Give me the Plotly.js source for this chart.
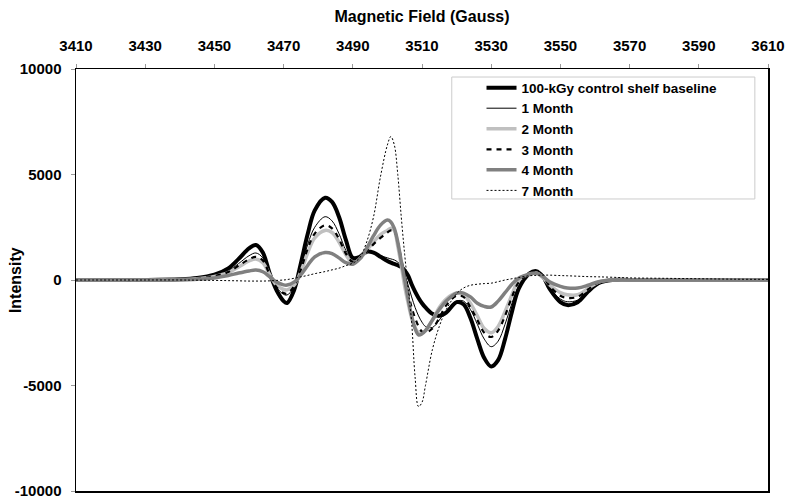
<!DOCTYPE html>
<html>
<head>
<meta charset="utf-8">
<script src="https://cdn.plot.ly/plotly-3.0.1.min.js"></script>
<style>
  body { margin: 0; background: #fff; }
  #graph { width: 792px; height: 504px; }
</style>
</head>
<body>
<div id="graph"></div>
<script>

// magnetic field (Gauss), shared by all spectra
var field = [3410, 3420, 3430, 3440, 3445, 3450, 3454, 3457, 3460, 3462,
  3464, 3466, 3468, 3470, 3471, 3473, 3475, 3477, 3479, 3482,
  3484, 3486, 3488, 3490, 3492, 3494, 3496, 3498, 3500, 3501,
  3502, 3503, 3504, 3505, 3506, 3507, 3508, 3509, 3510, 3511,
  3513, 3515, 3517, 3520, 3522, 3524, 3526, 3528, 3530, 3532,
  3534, 3536, 3538, 3541, 3543, 3545, 3547, 3550, 3552, 3555,
  3558, 3561, 3565, 3570, 3580, 3590, 3600, 3610];

var control = [0, 0, 0, 30, 90, 250, 550, 1000, 1500, 1660,
  1300, 300, -500, -1000, -1090, -500, 800, 2200, 3300, 3900,
  3700, 3000, 1900, 1050, 1100, 1340, 1300, 1100, 900, 820,
  760, 700, 620, 450, 200, -200, -550, -850, -1100, -1300,
  -1600, -1700, -1550, -1050, -1150, -1800, -2800, -3700, -4100, -3800,
  -2800, -1500, -400, 300, 420, 150, -450, -1050, -1190, -1050,
  -550, -150, 0, 0, 0, 0, 0, 0];

var month1 = [0, 0, 0, 20, 70, 200, 430, 780, 1150, 1280,
  1050, 300, -350, -680, -710, -350, 600, 1700, 2500, 3000,
  2800, 2200, 1400, 900, 1050, 1300, 1250, 1150, 1050, 1000,
  950, 850, 650, 250, -250, -800, -1300, -1700, -2000, -2200,
  -2250, -1900, -1450, -1000, -1000, -1400, -2100, -2800, -3160, -2900,
  -2100, -1100, -300, 250, 380, 100, -400, -900, -1030, -950,
  -500, -150, 0, 0, 0, 0, 0, 0];

var month2 = [0, 0, 0, 20, 60, 170, 350, 620, 900, 1000,
  820, 250, -250, -450, -470, -250, 400, 1300, 2000, 2350,
  2250, 1800, 1200, 800, 1000, 1400, 1800, 2150, 2350, 2450,
  2350, 1600, 700, -300, -1100, -1800, -2250, -2500, -2500, -2400,
  -1900, -1300, -900, -620, -700, -1100, -1700, -2300, -2500, -2200,
  -1500, -700, 0, 280, 330, 100, -250, -600, -700, -700,
  -400, -100, 0, 0, 0, 0, 0, 0];

var month3 = [0, 0, 0, 20, 60, 180, 380, 680, 980, 1100,
  920, 250, -350, -620, -650, -300, 500, 1500, 2200, 2600,
  2450, 1950, 1250, 850, 1000, 1350, 1700, 2000, 2250, 2350,
  2300, 1800, 1000, 200, -600, -1300, -1800, -2200, -2450, -2500,
  -2300, -1800, -1200, -750, -800, -1300, -1900, -2500, -2700, -2400,
  -1700, -800, -100, 300, 400, 150, -300, -750, -850, -800,
  -450, -100, 0, 0, 0, 0, 0, 0];

var month4 = [0, 0, 0, 10, 35, 100, 210, 330, 430, 470,
  390, 150, -100, -230, -240, -100, 250, 700, 1100, 1300,
  1250, 1050, 820, 750, 1000, 1500, 2100, 2600, 2840, 2750,
  2450, 1800, 900, 0, -900, -1700, -2300, -2600, -2550, -2400,
  -1900, -1400, -1000, -620, -620, -800, -1100, -1250, -1280, -1000,
  -600, -200, 100, 280, 330, 150, -100, -300, -380, -380,
  -250, -80, 0, 0, 0, 0, 0, 0];

var month7 = [0, 0, 0, 0, -10, -20, -30, -40, -50, -50,
  -50, -40, -20, 0, 20, 80, 150, 220, 300, 400,
  480, 560, 680, 800, 1050, 1800, 3000, 4900, 6400, 6800,
  6400, 5000, 3000, 1200, -400, -2000, -4600, -6000, -5800, -5000,
  -3300, -2200, -1400, -650, -380, -250, -200, -170, -150, -80,
  0, 60, 120, 200, 220, 230, 230, 210, 200, 180,
  160, 150, 130, 100, 80, 60, 40, 30];

var names = ['100-kGy control shelf baseline', '1 Month', '2 Month', '3 Month', '4 Month', '7 Month'];

var xTicks = [3410, 3430, 3450, 3470, 3490, 3510, 3530, 3550, 3570, 3590, 3610];
var yTickVals = [-10000, -5000, 0, 5000, 10000];
var yTickText = ['-10000', '-5000', '0', '5000', '10000'];

var fnt = 'Arial, "Liberation Sans", sans-serif';

function makeTrace(y, name, color, width, dash)
{
  return {
    x: field,
    y: y,
    type: 'scatter',
    mode: 'lines',
    name: name,
    line: {
      color: color,
      width: width,
      dash: dash,
      shape: 'spline',
      smoothing: 1
    }
  };
}

function myCanvas()
{
  var data = [
    makeTrace(control, names[0], '#000000', 4, 'solid'),
    makeTrace(month1, names[1], '#000000', 1, 'solid'),
    makeTrace(month2, names[2], '#c0c0c0', 3.5, 'solid'),
    makeTrace(month3, names[3], '#000000', 2.2, '5px,5px'),
    makeTrace(month4, names[4], '#808080', 3.5, 'solid'),
    makeTrace(month7, names[5], '#000000', 1, '2px,2px')
  ];

  var layout = {
    width: 792,
    height: 504,
    margin: {l: 76, r: 24, t: 69, b: 13},
    paper_bgcolor: '#ffffff',
    plot_bgcolor: '#ffffff',
    font: {family: fnt, size: 15, color: '#000', weight: 'bold'},
    showlegend: true,
    xaxis: {
      side: 'top',
      range: [3410, 3610],
      tickvals: xTicks,
      ticks: 'outside',
      ticklen: 4,
      tickcolor: '#999',
      ticklabelstandoff: 7,
      tickfont: {family: fnt, size: 15, weight: 'bold'},
      showgrid: false,
      zeroline: false,
      showline: true,
      mirror: true,
      linecolor: '#000',
      linewidth: 1.5,
      title: {text: 'Magnetic Field (Gauss)', font: {family: fnt, size: 16, weight: 'bold'}, standoff: 10}
    },
    yaxis: {
      range: [-10000, 10000],
      tickvals: yTickVals,
      ticktext: yTickText,
      ticks: 'outside',
      ticklen: 4,
      tickcolor: '#999',
      ticklabelstandoff: 6,
      tickfont: {family: fnt, size: 15, weight: 'bold'},
      showgrid: false,
      zeroline: false,
      showline: true,
      mirror: true,
      linecolor: '#000',
      linewidth: 1.5
    },
    // y title placed by hand so it sits where the original has it
    annotations: [{
      text: 'Intensity',
      xref: 'paper',
      yref: 'paper',
      x: -0.088,
      y: 0.5,
      xanchor: 'center',
      yanchor: 'middle',
      textangle: -90,
      showarrow: false,
      font: {family: fnt, size: 16, weight: 'bold'}
    }],
    legend: {
      x: 0.586,
      y: 0.992,
      xanchor: 'left',
      yanchor: 'top',
      bgcolor: 'rgba(0,0,0,0)',
      borderwidth: 0,
      font: {family: fnt, size: 13.5, weight: 'bold'},
      tracegroupgap: 0
    },
    shapes: [{
      type: 'rect',
      xref: 'paper',
      yref: 'paper',
      x0: 0.543,
      x1: 0.981,
      y0: 0.692,
      y1: 0.981,
      line: {color: '#cccccc', width: 1},
      fillcolor: 'rgba(0,0,0,0)',
      layer: 'below'
    }]
  };

  Plotly.newPlot('graph', data, layout, {staticPlot: true});
}

myCanvas();
</script>
</body>
</html>
